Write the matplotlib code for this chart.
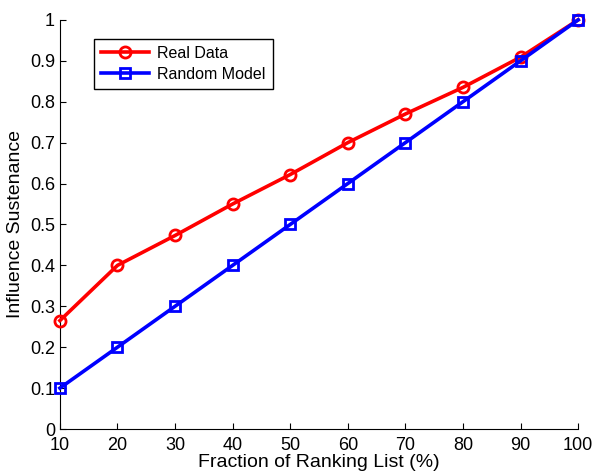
import matplotlib
matplotlib.use('Agg')
import matplotlib.pyplot as plt

plt.rcParams['font.family'] = ['Liberation Sans', 'DejaVu Sans']

fraction = [10, 20, 30, 40, 50, 60, 70, 80, 90, 100]
real_data = [0.265, 0.40, 0.473, 0.55, 0.622, 0.70, 0.77, 0.835, 0.909, 1.0]
random_model = [0.1, 0.2, 0.3, 0.4, 0.5, 0.6, 0.7, 0.8, 0.9, 1.0]
x_ticks = [10, 20, 30, 40, 50, 60, 70, 80, 90, 100]
y_ticks = [0, 0.1, 0.2, 0.3, 0.4, 0.5, 0.6, 0.7, 0.8, 0.9, 1]
y_ticklabels = ['0', '0.1', '0.2', '0.3', '0.4', '0.5', '0.6', '0.7', '0.8', '0.9', '1']

fig = plt.figure(figsize=(5.93, 4.73), dpi=100)
ax = fig.add_axes([0.101, 0.093, 0.874, 0.865])

ax.plot(fraction, real_data, color='red', lw=2.6, marker='o', ms=8,
        mfc='none', mew=2, label='Real Data', clip_on=False, zorder=3)
ax.plot(fraction, random_model, color='blue', lw=2.6, marker='s', ms=6.5,
        mfc='none', mew=2, label='Random Model', clip_on=False, zorder=4)

ax.set_xlim(10, 100)
ax.set_ylim(0, 1)
ax.set_xticks(x_ticks)
ax.set_yticks(y_ticks)
ax.set_yticklabels(y_ticklabels)
ax.tick_params(direction='in', length=4, labelsize=13, colors='black')
ax.tick_params(axis='x', pad=6)
ax.spines['top'].set_visible(False)
ax.spines['right'].set_visible(False)
ax.set_xlabel('Fraction of Ranking List (%)', fontsize=14, labelpad=0)
ax.set_ylabel('Influence Sustenance', fontsize=14, labelpad=4)

leg = ax.legend(loc='upper left', bbox_to_anchor=(0.0656, 0.9535), fontsize=11.5,
                fancybox=False, edgecolor='black', framealpha=1,
                borderaxespad=0, handlelength=3, handletextpad=0.5,
                borderpad=0.45, labelspacing=0.35)
leg.get_frame().set_linewidth(1)

fig.savefig('out.png', dpi=100)
